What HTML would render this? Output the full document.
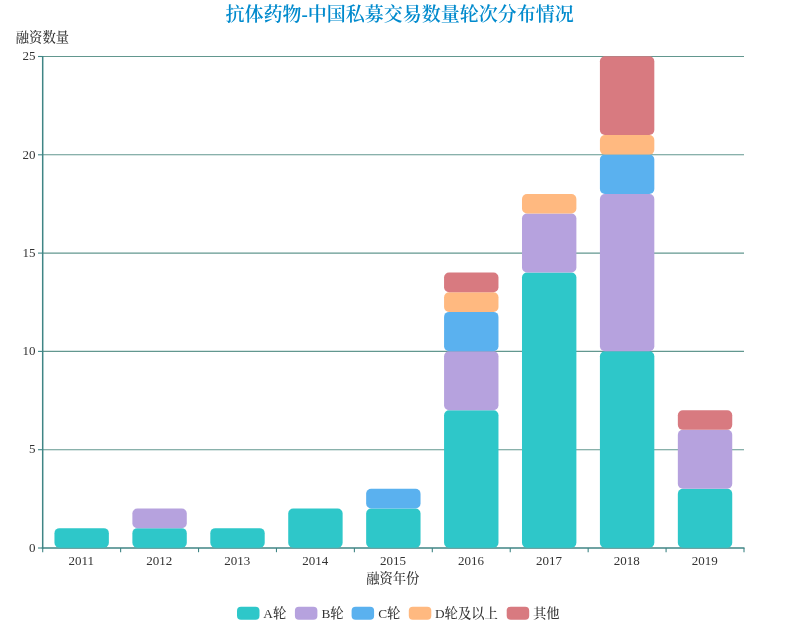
<!DOCTYPE html>
<html lang="zh"><head><meta charset="utf-8"><title>抗体药物-中国私募交易数量轮次分布情况</title>
<style>html,body{margin:0;padding:0;background:#fff}body{width:800px;height:624px;overflow:hidden}svg{display:block}text{font-family:"Liberation Serif","Noto Serif CJK SC",serif;font-size:13px;fill:#333}.t{font-weight:600;font-size:19px;fill:#008acd}.t tspan{font-weight:bold}.c{font-weight:500;font-size:13.3px}</style></head><body>
<svg width="800" height="624" viewBox="0 0 800 624">
<rect width="800" height="624" fill="#fff"/>
<text class="t" x="399.6" y="21.4" text-anchor="middle">抗体药物<tspan>-</tspan>中国私募交易数量轮次分布情况</text>
<line x1="42.7" y1="449.70" x2="744.0" y2="449.70" stroke="#62978f" stroke-width="1.1"/>
<line x1="42.7" y1="351.40" x2="744.0" y2="351.40" stroke="#62978f" stroke-width="1.1"/>
<line x1="42.7" y1="253.10" x2="744.0" y2="253.10" stroke="#62978f" stroke-width="1.1"/>
<line x1="42.7" y1="154.80" x2="744.0" y2="154.80" stroke="#62978f" stroke-width="1.1"/>
<line x1="42.7" y1="56.50" x2="744.0" y2="56.50" stroke="#62978f" stroke-width="1.1"/>
<line x1="38.0" y1="548.00" x2="42.7" y2="548.00" stroke="#3f8585" stroke-width="1.1"/>
<text x="35.5" y="551.70" text-anchor="end">0</text>
<line x1="38.0" y1="449.70" x2="42.7" y2="449.70" stroke="#3f8585" stroke-width="1.1"/>
<text x="35.5" y="453.40" text-anchor="end">5</text>
<line x1="38.0" y1="351.40" x2="42.7" y2="351.40" stroke="#3f8585" stroke-width="1.1"/>
<text x="35.5" y="355.10" text-anchor="end">10</text>
<line x1="38.0" y1="253.10" x2="42.7" y2="253.10" stroke="#3f8585" stroke-width="1.1"/>
<text x="35.5" y="256.80" text-anchor="end">15</text>
<line x1="38.0" y1="154.80" x2="42.7" y2="154.80" stroke="#3f8585" stroke-width="1.1"/>
<text x="35.5" y="158.50" text-anchor="end">20</text>
<line x1="38.0" y1="56.50" x2="42.7" y2="56.50" stroke="#3f8585" stroke-width="1.1"/>
<text x="35.5" y="60.20" text-anchor="end">25</text>
<text class="c" x="15.8" y="42.3">融资数量</text>
<line x1="42.70" y1="56.00" x2="42.70" y2="548.80" stroke="#3f8585" stroke-width="1.5"/>
<line x1="41.80" y1="548.00" x2="744.50" y2="548.00" stroke="#3f8585" stroke-width="1.6"/>
<line x1="42.70" y1="548.00" x2="42.70" y2="552.20" stroke="#3f8585" stroke-width="1.1"/>
<line x1="120.62" y1="548.00" x2="120.62" y2="552.20" stroke="#3f8585" stroke-width="1.1"/>
<line x1="198.54" y1="548.00" x2="198.54" y2="552.20" stroke="#3f8585" stroke-width="1.1"/>
<line x1="276.47" y1="548.00" x2="276.47" y2="552.20" stroke="#3f8585" stroke-width="1.1"/>
<line x1="354.39" y1="548.00" x2="354.39" y2="552.20" stroke="#3f8585" stroke-width="1.1"/>
<line x1="432.31" y1="548.00" x2="432.31" y2="552.20" stroke="#3f8585" stroke-width="1.1"/>
<line x1="510.23" y1="548.00" x2="510.23" y2="552.20" stroke="#3f8585" stroke-width="1.1"/>
<line x1="588.16" y1="548.00" x2="588.16" y2="552.20" stroke="#3f8585" stroke-width="1.1"/>
<line x1="666.08" y1="548.00" x2="666.08" y2="552.20" stroke="#3f8585" stroke-width="1.1"/>
<line x1="744.00" y1="548.00" x2="744.00" y2="552.20" stroke="#3f8585" stroke-width="1.1"/>
<rect x="54.46" y="528.14" width="54.40" height="19.66" rx="5" ry="5" fill="#2ec7c9"/>
<rect x="132.38" y="528.14" width="54.40" height="19.66" rx="5" ry="5" fill="#2ec7c9"/>
<rect x="132.38" y="508.48" width="54.40" height="19.66" rx="5" ry="5" fill="#b6a2de"/>
<rect x="210.31" y="528.14" width="54.40" height="19.66" rx="5" ry="5" fill="#2ec7c9"/>
<rect x="288.23" y="508.48" width="54.40" height="39.32" rx="5" ry="5" fill="#2ec7c9"/>
<rect x="366.15" y="508.48" width="54.40" height="39.32" rx="5" ry="5" fill="#2ec7c9"/>
<rect x="366.15" y="488.82" width="54.40" height="19.66" rx="5" ry="5" fill="#5ab1ef"/>
<rect x="444.07" y="410.18" width="54.40" height="137.62" rx="5" ry="5" fill="#2ec7c9"/>
<rect x="444.07" y="351.20" width="54.40" height="58.98" rx="5" ry="5" fill="#b6a2de"/>
<rect x="444.07" y="311.88" width="54.40" height="39.32" rx="5" ry="5" fill="#5ab1ef"/>
<rect x="444.07" y="292.22" width="54.40" height="19.66" rx="5" ry="5" fill="#ffb980"/>
<rect x="444.07" y="272.56" width="54.40" height="19.66" rx="5" ry="5" fill="#d87a80"/>
<rect x="521.99" y="272.56" width="54.40" height="275.24" rx="5" ry="5" fill="#2ec7c9"/>
<rect x="521.99" y="213.58" width="54.40" height="58.98" rx="5" ry="5" fill="#b6a2de"/>
<rect x="521.99" y="193.92" width="54.40" height="19.66" rx="5" ry="5" fill="#ffb980"/>
<rect x="599.92" y="351.20" width="54.40" height="196.60" rx="5" ry="5" fill="#2ec7c9"/>
<rect x="599.92" y="193.92" width="54.40" height="157.28" rx="5" ry="5" fill="#b6a2de"/>
<rect x="599.92" y="154.60" width="54.40" height="39.32" rx="5" ry="5" fill="#5ab1ef"/>
<rect x="599.92" y="134.94" width="54.40" height="19.66" rx="5" ry="5" fill="#ffb980"/>
<rect x="599.92" y="56.30" width="54.40" height="78.64" rx="5" ry="5" fill="#d87a80"/>
<rect x="677.84" y="488.82" width="54.40" height="58.98" rx="5" ry="5" fill="#2ec7c9"/>
<rect x="677.84" y="429.84" width="54.40" height="58.98" rx="5" ry="5" fill="#b6a2de"/>
<rect x="677.84" y="410.18" width="54.40" height="19.66" rx="5" ry="5" fill="#d87a80"/>
<text x="81.36" y="564.80" text-anchor="middle">2011</text>
<text x="159.28" y="564.80" text-anchor="middle">2012</text>
<text x="237.21" y="564.80" text-anchor="middle">2013</text>
<text x="315.13" y="564.80" text-anchor="middle">2014</text>
<text x="393.05" y="564.80" text-anchor="middle">2015</text>
<text x="470.97" y="564.80" text-anchor="middle">2016</text>
<text x="548.89" y="564.80" text-anchor="middle">2017</text>
<text x="626.82" y="564.80" text-anchor="middle">2018</text>
<text x="704.74" y="564.80" text-anchor="middle">2019</text>
<text class="c" x="392.8" y="583" text-anchor="middle">融资年份</text>
<rect x="237.0" y="606.7" width="22.5" height="13" rx="4" ry="4" fill="#2ec7c9"/>
<text class="c" x="263.3" y="617.5">A轮</text>
<rect x="294.9" y="606.7" width="22.5" height="13" rx="4" ry="4" fill="#b6a2de"/>
<text class="c" x="321.4" y="617.5">B轮</text>
<rect x="351.6" y="606.7" width="22.5" height="13" rx="4" ry="4" fill="#5ab1ef"/>
<text class="c" x="378.2" y="617.5">C轮</text>
<rect x="408.8" y="606.7" width="22.5" height="13" rx="4" ry="4" fill="#ffb980"/>
<text class="c" x="435.0" y="617.5">D轮及以上</text>
<rect x="506.7" y="606.7" width="22.5" height="13" rx="4" ry="4" fill="#d87a80"/>
<text class="c" x="533.0" y="617.5">其他</text>
</svg></body></html>
